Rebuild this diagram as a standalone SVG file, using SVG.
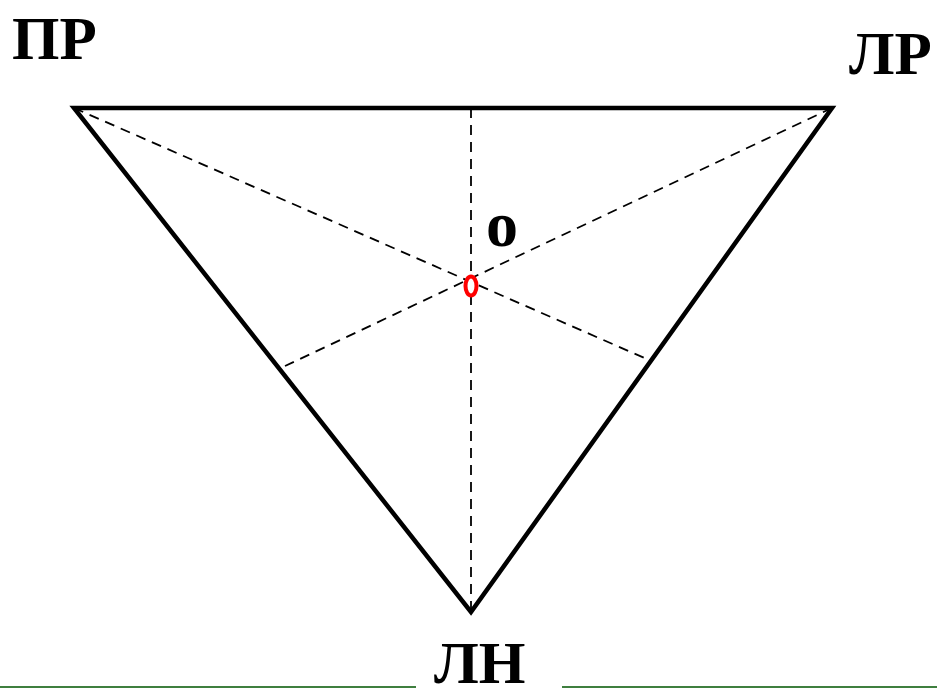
<svg xmlns="http://www.w3.org/2000/svg" width="938" height="688" viewBox="0 0 938 688">
<style>
.lbl{font-family:"Liberation Serif","Times New Roman",serif;font-weight:bold;fill:#000}
.edge{stroke:#000;stroke-width:4.5;fill:none;stroke-linejoin:miter}
.dash{stroke:#000;stroke-width:1.8;stroke-dasharray:10,7;fill:none}
</style>
<rect width="938" height="688" fill="#fff"/>
<g id="connectors">
<line class="dash" x1="74" y1="108" x2="649" y2="360"/>
<line class="dash" x1="832" y1="108" x2="285" y2="366"/>
<line class="dash" x1="471" y1="108" x2="471" y2="612"/>
<polygon class="edge" points="74,108 832,108 471,612"/>
</g>
<g id="center">
<ellipse cx="471" cy="286" rx="5.5" ry="9.5" fill="#fff" stroke="#f00" stroke-width="4"/>
<text class="lbl" x="486" y="246" font-size="64">o</text>
</g>
<g id="PR"><text class="lbl" x="12" y="59" font-size="61">ПР</text></g>
<g id="LR"><text class="lbl" x="849" y="74" font-size="61">ЛР</text></g>
<g id="LN"><text class="lbl" x="434" y="683" font-size="60">ЛН</text></g>
<g id="baseline">
<line x1="0" y1="687" x2="416" y2="687" stroke="#3f7f3f" stroke-width="2"/>
<line x1="562" y1="687" x2="937" y2="687" stroke="#3f7f3f" stroke-width="2"/>
</g>
</svg>
